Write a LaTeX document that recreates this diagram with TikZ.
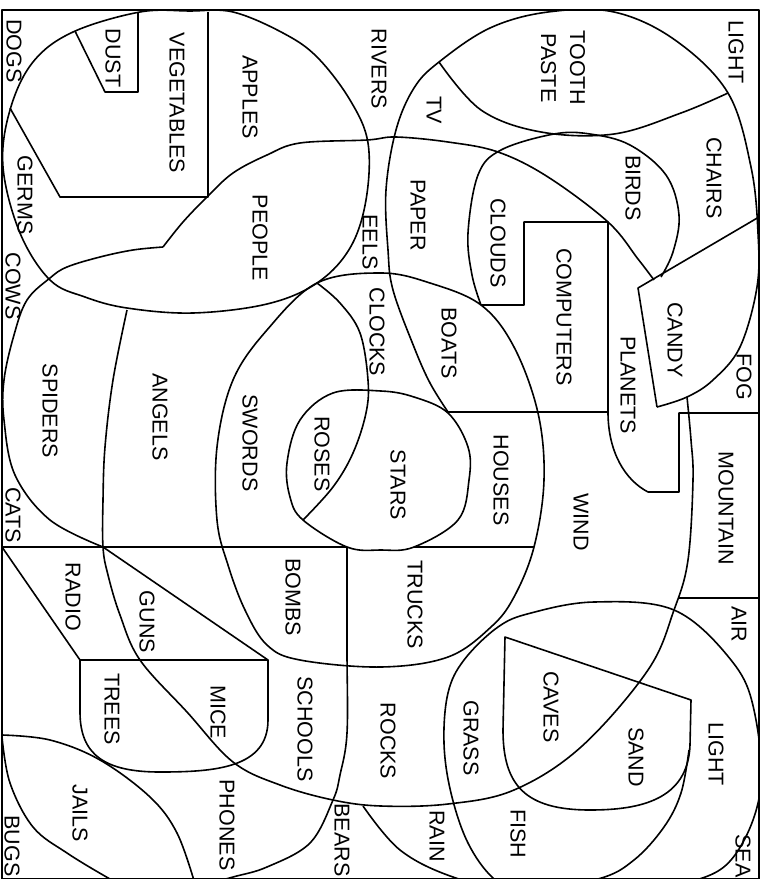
\documentclass[tikz,border=0pt]{standalone}
\usepackage{fontspec}
\setmainfont{Liberation Sans}

\begin{document}
\begin{tikzpicture}[x=1pt, y=-1pt,
    line/.style={line width=1.6pt, line join=round},
    lbl/.style={font=\fontsize{21.5}{29}\selectfont, rotate=-90, align=center, inner sep=0pt},
  ]
    \useasboundingbox (0,0) rectangle (762,879);

    \begin{scope}
    \clip (2,10) rectangle (759,879);

    % Top-left loop (apples, people)
    \draw[line] plot[smooth cycle, tension=0.6] coordinates {(140,12) (190,11) (233,12) (283,33) (317,57) (350,100) (368,143) (366,200) (350,248) (317,283) (267,304) (193,313) (127,308) (85,297) (50,280) (20,233) (3,167) (10,110) (33,62) (73,32)};
    \draw[line] (208,12) -- (208,197) -- (60,197) -- (10,108);
    \draw[line] (138,12) -- (138,92) -- (105,92) -- (75,31);

    % Top-right loop (tooth paste, chairs)
    \draw[line] plot[smooth, tension=0.6] coordinates {(448,412) (430,383) (414,347) (393,290) (388,250) (386,190) (396,130) (414,88) (439,62) (490,28) (548,12) (614,12) (675,40) (728,93) (751,167) (758,233) (757,287) (740,347) (713,380) (687,397) (657,407)};
    \draw[line] plot[smooth, tension=0.6] coordinates {(439,62) (481,110) (541,132) (614,134) (681,113) (728,93)};
    \draw[line] plot[smooth, tension=0.6] coordinates {(661,277) (673,252) (679,215) (666,175) (630,145) (590,134) (554,134) (501,150) (478,175) (468,233) (472,275) (481,305)};

    % Long curve through people and spiders
    \draw[line] plot[smooth, tension=0.6] coordinates {(654,280) (638,259) (608,222) (548,177) (498,152) (448,142) (396,137) (367,140) (300,143) (267,155) (233,173) (207,197) (183,222) (163,247)};
    \draw[line] plot[smooth, tension=0.6] coordinates {(163,247) (133,250) (100,257) (67,267) (50,278) (27,300) (14,335) (4,380) (4,420) (15,475) (50,520) (103,547)};
    \draw[line] (103,547) -- (268,660);

    % Long curve through angels, phones and sand
    \draw[line] plot[smooth, tension=0.6] coordinates {(127,310) (113,380) (105,447) (103,500) (103,547) (108,575) (120,615) (140,660) (187,712) (233,762) (280,785) (333,800) (381,806) (448,804) (514,790) (581,747) (648,670) (674,610) (688,560) (693,480) (691,440) (687,397)};

    % Middle loop (swords, boats, trucks)
    \draw[line] plot[smooth cycle, tension=0.6] coordinates {(317,283) (381,273) (430,283) (481,305) (514,347) (538,413) (544,480) (534,547) (514,597) (491,627) (448,657) (381,667) (300,660) (267,645) (245,610) (228,565) (217,520) (217,447) (233,380) (267,330)};

    % Stars and roses
    \draw[line] plot[smooth cycle, tension=0.6] coordinates {(381,391) (414,397) (448,413) (468,447) (469,480) (458,520) (414,547) (381,550) (347,547) (303,520) (290,497) (287,463) (300,420) (333,393)};
    \draw[line] plot[smooth, tension=0.6] coordinates {(317,283) (340,303) (360,333) (368,380) (366,413) (353,453) (333,487) (303,520)};

    % Straight dividers
    \draw[line] (2,547) -- (347,547);
    \draw[line] (414,547) -- (534,547);
    \draw[line] (448,412) -- (608,412);
    \draw[line] (481,305) -- (524,305) -- (524,222) -- (608,222) -- (608,412) .. controls (608,452) and (625,480) .. (648,492) -- (679,492) -- (679,413) -- (759,413);
    \draw[line] (759,217) -- (638,288) -- (657,407);
    \draw[line] (679,598) -- (759,598);
    \draw[line] (2,547) -- (80,660);

    % Schools
    \draw[line] plot[smooth, tension=0.6] coordinates {(347,547) (347,650) (347,733) (340,775) (333,800) (310,843) (267,867) (233,877) (200,886)};

    % Trees and mice
    \draw[line] (80,660) -- (268,660) -- (268,720) .. controls (268,768) and (215,772) .. (160,772) .. controls (105,772) and (80,755) .. (80,712) -- cycle;

    % Jails
    \draw[line] plot[smooth, tension=0.6] coordinates {(2,735) (50,740) (100,760) (150,797) (177,833) (195,884)};
    \draw[line] plot[smooth, tension=0.6] coordinates {(2,737) (10,783) (33,827) (67,853) (110,879) (125,886)};

    % Bottom-right loop (grass, light)
    \draw[line] plot[smooth cycle, tension=0.6] coordinates {(594,602) (674,610) (731,660) (754,710) (760,793) (731,860) (681,885) (600,905) (530,900) (494,879) (468,843) (451,793) (444,743) (448,693) (464,660) (498,627) (531,613)};
    \draw[line] plot[smooth, tension=0.6] coordinates {(363,806) (400,850) (453,877) (520,892) (598,879) (634,860) (664,827) (681,793) (689,750)};
    \draw[line] (505,637) -- (691,700) -- (690,745) .. controls (688,800) and (640,810) .. (590,810) .. controls (525,810) and (503,785) .. (503,730) -- cycle;
    \end{scope}

    % Frame
    \draw[line] (2,10) rectangle (759,879);

    % Labels, left column
    \node[lbl] (dogs) at (14,51) {DOGS};
    \node[lbl] (germs) at (25,195) {GERMS};
    \node[lbl] (cows) at (13,286) {COWS};
    \node[lbl] (spiders) at (50,411) {SPIDERS};
    \node[lbl] (cats) at (13,515) {CATS};
    \node[lbl] (radio) at (73,597) {RADIO};
    \node[lbl] (jails) at (80,813) {JAILS};
    \node[lbl] (bugs) at (12,846) {BUGS};

    % Labels, upper left
    \node[lbl] (dust) at (113,58) {DUST};
    \node[lbl] (vegetables) at (177,103) {VEGETABLES};
    \node[lbl] (apples) at (250,97) {APPLES};
    \node[lbl] (people) at (260,238) {PEOPLE};
    \node[lbl] (angels) at (160,417) {ANGELS};
    \node[lbl] (swords) at (250,443) {SWORDS};
    \node[lbl] (roses) at (322,454) {ROSES};
    \node[lbl] (stars) at (398,485) {STARS};
    \node[lbl] (eels) at (370,242) {EELS};
    \node[lbl] (clocks) at (377,332) {CLOCKS};
    \node[lbl] (rivers) at (379,69) {RIVERS};

    % Labels, upper right
    \node[lbl] (tv) at (434,110) {TV};
    \node[lbl] (toothpaste) at (563,68) {TOOTH\\PASTE};
    \node[lbl] (lighttop) at (736,52) {LIGHT};
    \node[lbl] (chairs) at (714,178) {CHAIRS};
    \node[lbl] (birds) at (633,188) {BIRDS};
    \node[lbl] (paper) at (418,215) {PAPER};
    \node[lbl] (clouds) at (498,243) {CLOUDS};
    \node[lbl] (computers) at (564,317) {COMPUTERS};
    \node[lbl] (candy) at (675,340) {CANDY};
    \node[lbl] (planets) at (628,385) {PLANETS};
    \node[lbl] (fog) at (744,377) {FOG};
    \node[lbl] (boats) at (449,343) {BOATS};
    \node[lbl] (mountain) at (726,508) {MOUNTAIN};
    \node[lbl] (houses) at (501,480) {HOUSES};
    \node[lbl] (wind) at (581,522) {WIND};

    % Labels, lower half
    \node[lbl] (guns) at (147,622) {GUNS};
    \node[lbl] (bombs) at (293,597) {BOMBS};
    \node[lbl] (trucks) at (415,605) {TRUCKS};
    \node[lbl] (trees) at (112,709) {TREES};
    \node[lbl] (mice) at (218,712) {MICE};
    \node[lbl] (schools) at (305,729) {SCHOOLS};
    \node[lbl] (phones) at (227,825) {PHONES};
    \node[lbl] (bears) at (342,840) {BEARS};
    \node[lbl] (rain) at (437,836) {RAIN};
    \node[lbl] (rocks) at (388,741) {ROCKS};
    \node[lbl] (grass) at (471,738) {GRASS};
    \node[lbl] (caves) at (551,707) {CAVES};
    \node[lbl] (sand) at (636,757) {SAND};
    \node[lbl] (lightlow) at (716,754) {LIGHT};
    \node[lbl] (air) at (739,624) {AIR};
    \node[lbl] (fish) at (518,834) {FISH};
    \node[lbl] (sea) at (743,856) {SEA};
\end{tikzpicture}
\end{document}
